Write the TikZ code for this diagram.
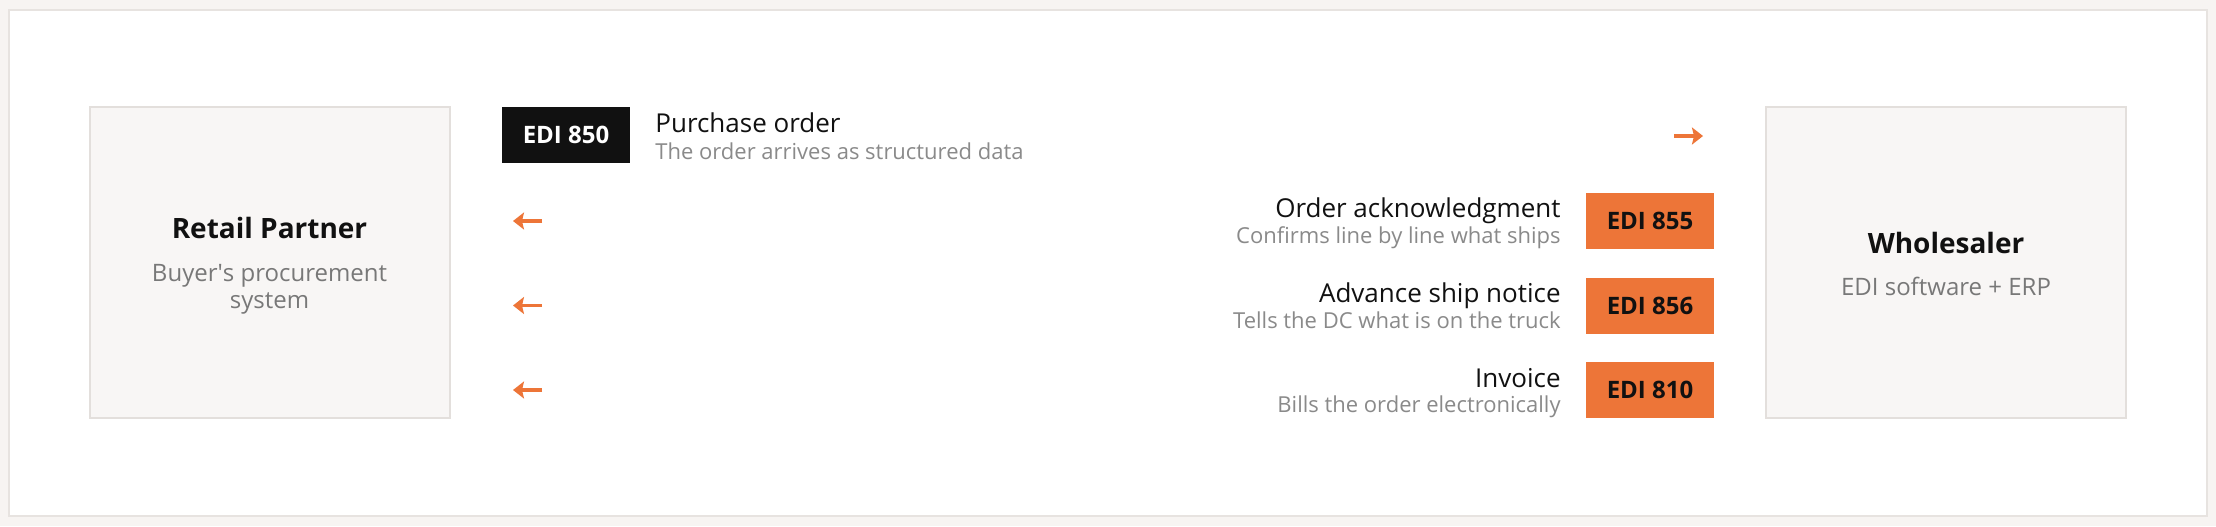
\documentclass[tikz,border=0pt]{standalone}
\usepackage{fontspec}
\setmainfont{Open Sans}
\usetikzlibrary{arrows.meta}

\definecolor{pagebg}{HTML}{F7F4F2}
\definecolor{panelline}{HTML}{E7E3E0}
\definecolor{boxfill}{HTML}{F8F6F5}
\definecolor{boxline}{HTML}{E3DFDC}
\definecolor{ink}{HTML}{111111}
\definecolor{subgray}{HTML}{787878}
\definecolor{rowgray}{HTML}{8A8A8A}
\definecolor{tagblack}{HTML}{111111}
\definecolor{ediorange}{HTML}{ED7538}

\tikzset{
  sysbox/.style={draw=boxline, line width=1pt, fill=boxfill, minimum width=180pt, minimum height=155.5pt, inner sep=0pt},
  sysname/.style={font=\bfseries\fontsize{14}{17}\selectfont, text=ink, anchor=base, inner sep=0pt},
  syssub/.style={font=\fontsize{12}{14}\selectfont, text=subgray, anchor=base, inner sep=0pt},
  tag/.style={minimum width=64pt, minimum height=28pt, inner sep=0pt, font=\bfseries\fontsize{12}{14}\selectfont},
  msgname/.style={font=\fontsize{13}{15}\selectfont, text=ink, inner sep=0pt},
  msgsub/.style={font=\fontsize{11}{13}\selectfont, text=rowgray, inner sep=0pt},
  flow/.style={ediorange, line width=1.6pt, -{Stealth[length=5.5pt,width=8.5pt,inset=1pt]}}
}

\begin{document}
\begin{tikzpicture}[x=0.5pt, y=-0.5pt]
            % page and panel
            \fill[pagebg] (0,0) rectangle (2216,526);
            \useasboundingbox (0,0) rectangle (2216,526);
            \draw[panelline, line width=1pt, fill=white] (9,10) rectangle (2207,516);
            % the two systems
            \node[sysbox] (retail) at (269.5,262) {};
            \node[sysname] (retailname) at (269.5,238) {Retail Partner};
            \node[syssub] (retailsub) at (269.5,281) {Buyer\textquotesingle s procurement};
            \node[syssub] (retailsubb) at (269.5,308) {system};
            \node[sysbox] (wholesale) at (1946,262.5) {};
            \node[sysname] (wholesalename) at (1946,253) {Wholesaler};
            \node[syssub] (wholesalesub) at (1946,295) {EDI software + ERP};
            % purchase order, buyer to wholesaler
            \node[tag, fill=tagblack, text=white] (edi850) at (566,135) {EDI 850};
            \node[msgname, anchor=base west] (po) at (655,132) {Purchase order};
            \node[msgsub, anchor=base west] (posub) at (655,159) {The order arrives as structured data};
            \coordinate (pofrom) at (1674,136);
            \coordinate (poto) at (1703,136);
            \draw[flow] (pofrom) -- (poto);
            % answers, wholesaler to buyer
            \node[tag, fill=ediorange, text=ink] (edi855) at (1650,221) {EDI 855};
            \node[msgname, anchor=base east] (ack) at (1561,217) {Order acknowledgment};
            \node[msgsub, anchor=base east] (acksub) at (1561,243) {Confirms line by line what ships};
            \coordinate (ackfrom) at (542,221);
            \coordinate (ackto) at (513,221);
            \draw[flow] (ackfrom) -- (ackto);
            \node[tag, fill=ediorange, text=ink] (edi856) at (1650,305.5) {EDI 856};
            \node[msgname, anchor=base east] (asn) at (1561,302) {Advance ship notice};
            \node[msgsub, anchor=base east] (asnsub) at (1561,328) {Tells the DC what is on the truck};
            \coordinate (asnfrom) at (542,305.5);
            \coordinate (asnto) at (513,305.5);
            \draw[flow] (asnfrom) -- (asnto);
            \node[tag, fill=ediorange, text=ink] (edi810) at (1650,390) {EDI 810};
            \node[msgname, anchor=base east] (inv) at (1561,387) {Invoice};
            \node[msgsub, anchor=base east] (invsub) at (1561,412) {Bills the order electronically};
            \coordinate (invfrom) at (542,390);
            \coordinate (invto) at (513,390);
            \draw[flow] (invfrom) -- (invto);
        \end{tikzpicture}
\end{document}
